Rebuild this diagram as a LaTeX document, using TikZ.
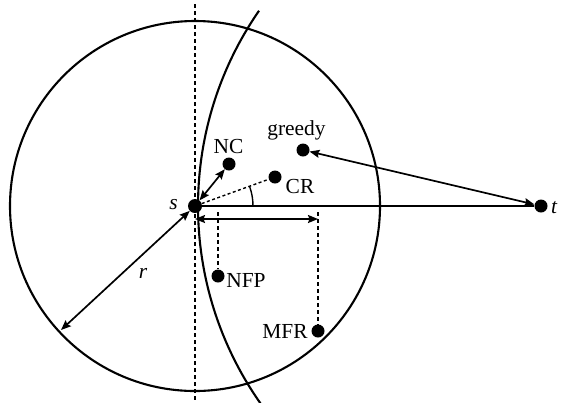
\documentclass[tikz,border=0pt]{standalone}
\usepackage{fontspec}
\setmainfont{Liberation Serif}
\usetikzlibrary{arrows.meta}
\begin{document}
\begin{tikzpicture}[x=1bp,y=-1bp,
  dot/.style={circle,fill=black,inner sep=0pt,minimum size=13bp},
  lbl/.style={inner sep=0pt,anchor=base,font=\fontsize{21.5}{25}\selectfont},
  ilbl/.style={lbl,font=\fontsize{21.5}{25}\selectfont\itshape},
  thickline/.style={line width=2.1bp},
  arr/.style={line width=1.7bp,{Stealth[length=10bp,width=8bp,inset=1.5bp]}-{Stealth[length=10bp,width=8bp,inset=1.5bp]}},
  vdash/.style={line width=2.2bp,dash pattern=on 4bp off 3bp},
  finedash/.style={line width=1.4bp,dash pattern=on 3bp off 2.5bp}]
\useasboundingbox (0,0) rectangle (561,402);
% nodes
\node[dot,minimum size=14bp] (s) at (195,206) {};
\node[dot] (t) at (541,206) {};
\node[dot] (nc) at (229,164) {};
\node[dot] (cr) at (275,177) {};
\node[dot] (greedy) at (303,150) {};
\node[dot] (nfp) at (218,276) {};
\node[dot] (mfr) at (318,331) {};
% labels
\node[ilbl] (ls) at (173.5,209) {s};
\node[ilbl] (lt) at (554,213) {t};
\node[ilbl] (lr) at (143,278) {r};
\node[lbl] (lnc) at (228.5,153) {NC};
\node[lbl] (lcr) at (300,193) {CR};
\node[lbl] (lgreedy) at (296.5,135) {greedy};
\node[lbl] (lnfp) at (246,287) {NFP};
\node[lbl] (lmfr) at (285,338) {MFR};
% coordinates
\coordinate (vtop) at (195,4);
\coordinate (vbot) at (195,402);
\coordinate (rend) at (61,330);
\coordinate (h1) at (195,219);
\coordinate (h2) at (318,219);
\coordinate (d1) at (218,212);
\coordinate (d2) at (318,212);
% big circle
\draw[thickline] (s.center) circle[radius=185];
% arc centered at t
\draw[thickline] ([shift={(t.center)}]-145.3:343) arc[start angle=-145.3, end angle=-216, radius=343];
% dashed vertical
\draw[vdash] (vtop) -- (vbot);
% s--t
\draw[thickline] (s) -- (t);
% arrows
\draw[arr] (s) -- (nc);
\draw[arr] (greedy) -- (t);
\draw[arr] (s) -- (rend);
\draw[arr] (h1) -- (h2);
% dashed
\draw[finedash] (s) -- (cr);
\draw[vdash] (d1) -- (nfp);
\draw[vdash] (d2) -- (mfr);
% angle
\draw[line width=1.4bp] ([shift={(s.center)}]0:58) arc[start angle=0, end angle=-20, radius=58];
\end{tikzpicture}
\end{document}
